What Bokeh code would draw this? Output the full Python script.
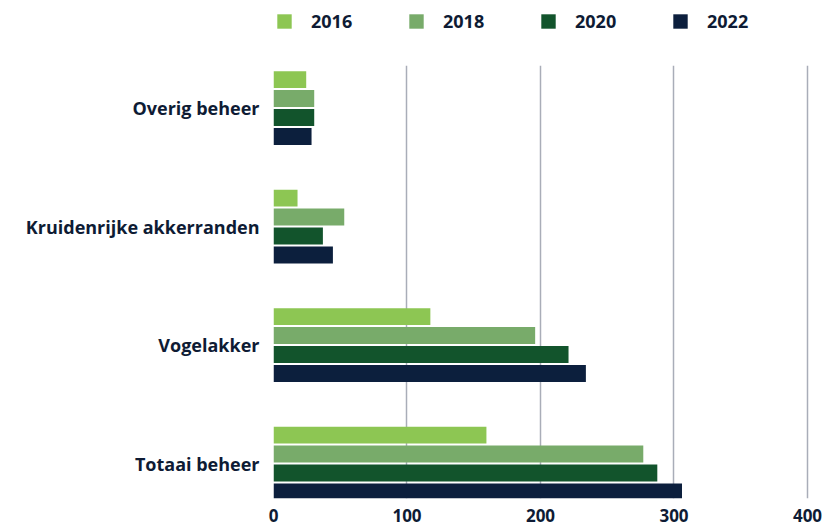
import numpy as np
from bokeh.plotting import figure
from bokeh.layouts import column
from bokeh.models import Range1d, FixedTicker, Legend, LegendItem, ColumnDataSource
from bokeh.embed import file_html
from bokeh.resources import INLINE

categories = ["Overig beheer", "Kruidenrijke akkerranden", "Vogelakker", "Totaai beheer"]
years = ["2016", "2018", "2020", "2022"]
v2016 = [24.5, 18, 117.5, 159.5]
v2018 = [30.5, 53, 196, 277]
v2020 = [30.5, 37, 221, 287.5]
v2022 = [28.5, 44.5, 234, 306]
x_ticks = [0, 100, 200, 300, 400]

series = [v2016, v2018, v2020, v2022]
colors = ["#8dc653", "#78ab6a", "#12542c", "#0c1f3d"]
text_color = "#0e1b34"
FONT = "Open Sans"

x_range = Range1d(0, 406)

# ---- main chart ----
p = figure(width=822, height=467, output_backend="svg", toolbar_location=None,
           x_range=x_range, y_range=Range1d(3.295, -0.359))
p.min_border_left = 273
p.min_border_right = 7
p.min_border_top = 3
p.min_border_bottom = 31
p.outline_line_color = None
p.background_fill_color = "white"
p.border_fill_color = "white"

pitch = 0.16
bh = 0.143
idx = np.arange(len(categories))
for k, (vals, col) in enumerate(zip(series, colors)):
    src = ColumnDataSource(dict(y=idx + (k - 1.5) * pitch, right=vals))
    p.hbar(y="y", left=0, right="right", height=bh, source=src,
           fill_color=col, line_color=None)

p.xaxis.ticker = FixedTicker(ticks=x_ticks)
p.xaxis.axis_line_color = None
p.xaxis.major_tick_line_color = None
p.xaxis.minor_tick_line_color = None
p.xaxis.major_label_standoff = 4
p.xaxis.major_label_text_font = FONT
p.xaxis.major_label_text_font_style = "bold"
p.xaxis.major_label_text_font_size = "17px"
p.xaxis.major_label_text_color = text_color

p.yaxis.ticker = FixedTicker(ticks=list(idx))
p.yaxis.major_label_overrides = {int(i): c for i, c in zip(idx, categories)}
p.yaxis.axis_line_color = None
p.yaxis.major_tick_line_color = None
p.yaxis.minor_tick_line_color = None
p.yaxis.major_label_standoff = 8
p.yaxis.major_label_text_font = FONT
p.yaxis.major_label_text_font_style = "bold"
p.yaxis.major_label_text_font_size = "18px"
p.yaxis.major_label_text_color = text_color

p.xgrid.ticker = FixedTicker(ticks=x_ticks)
p.xgrid.grid_line_color = "#a9adb8"
p.xgrid.grid_line_width = 1.5
p.ygrid.grid_line_color = None

# ---- legend strip (swatch renderers hold the series but lie outside this strip's view) ----
lg = figure(width=822, height=62, output_backend="svg", toolbar_location=None,
            x_range=x_range, y_range=Range1d(100, 101))
lg.min_border_left = 273
lg.min_border_right = 7
lg.min_border_top = 0
lg.min_border_bottom = 0
lg.outline_line_color = None
lg.axis.visible = False
lg.grid.visible = False
items = []
for vals, col, yr in zip(series, colors, years):
    r = lg.hbar(y=idx, left=0, right=vals, height=bh, fill_color=col, line_color=None)
    items.append(LegendItem(label=yr, renderers=[r]))

legend = Legend(items=items, orientation="horizontal", location=(2, 29))
legend.border_line_color = None
legend.background_fill_alpha = 0
legend.padding = 0
legend.margin = 0
legend.glyph_width = 18
legend.glyph_height = 18
legend.label_height = 18
legend.label_standoff = 18
legend.label_width = 79
legend.spacing = 17
legend.label_text_font = FONT
legend.label_text_font_style = "bold"
legend.label_text_font_size = "18px"
legend.label_text_color = text_color
lg.add_layout(legend, "center")

layout = column(lg, p, spacing=0)
open("out.html", "w").write(file_html(layout, INLINE))
